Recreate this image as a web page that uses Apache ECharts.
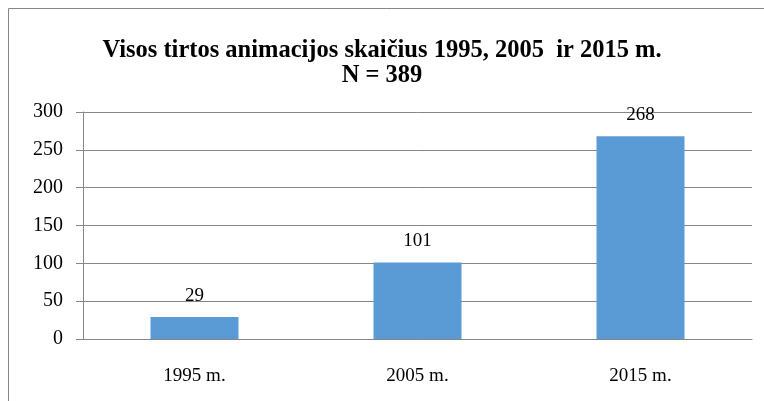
<!DOCTYPE html>
<html>
<head>
<meta charset="utf-8">
<script src="https://cdn.jsdelivr.net/npm/echarts@6/dist/echarts.min.js"></script>
<style>
  html, body { margin: 0; padding: 0; background: #fff; }
  #chart { width: 764px; height: 401px; }
</style>
</head>
<body>
<div id="chart"></div>
<script>
// chart data
var categories = ['1995 m.', '2005 m.', '2015 m.'];
var counts = [29, 101, 268];
var yTicks = { min: 0, max: 300, interval: 50 };
var titleText = 'Visos tirtos animacijos skaičius 1995, 2005  ir 2015 m.\nN = 389';

var serif = '"Liberation Serif", "Times New Roman", serif';

var chart = echarts.init(document.getElementById('chart'));
chart.setOption({
    animation: false,
    backgroundColor: '#fff',
    title: {
        text: titleText,
        left: 'center',
        top: 33,
        textStyle: {
            fontFamily: serif,
            fontWeight: 'bold',
            fontSize: 24.5,
            lineHeight: 25,
            color: '#000'
        }
    },
    graphic: [{
        type: 'rect',
        shape: { x: 8.5, y: 8.5, width: 800, height: 500 },
        style: { fill: 'none', stroke: '#868686', lineWidth: 1 }
    }],
    grid: {
        left: 83,
        right: 12,
        top: 112,
        bottom: 62
    },
    xAxis: {
        type: 'category',
        data: categories,
        axisLine: { lineStyle: { color: '#868686', width: 1 } },
        axisTick: { show: false },
        axisLabel: {
            margin: 28,
            fontFamily: serif,
            fontSize: 19,
            color: '#000'
        }
    },
    yAxis: {
        type: 'value',
        min: yTicks.min,
        max: yTicks.max,
        interval: yTicks.interval,
        axisLine: { show: true, lineStyle: { color: '#868686', width: 1 } },
        axisTick: { show: true, length: 7, lineStyle: { color: '#868686' } },
        splitLine: { lineStyle: { color: '#868686', width: 1 } },
        axisLabel: {
            margin: 20,
            fontFamily: serif,
            fontSize: 20,
            color: '#000'
        }
    },
    series: [{
        type: 'bar',
        data: counts,
        barWidth: 88,
        itemStyle: { color: '#5B9BD5' },
        label: {
            show: true,
            position: 'top',
            distance: 12,
            fontFamily: serif,
            fontSize: 19,
            color: '#000'
        }
    }]
});
</script>
</body>
</html>
